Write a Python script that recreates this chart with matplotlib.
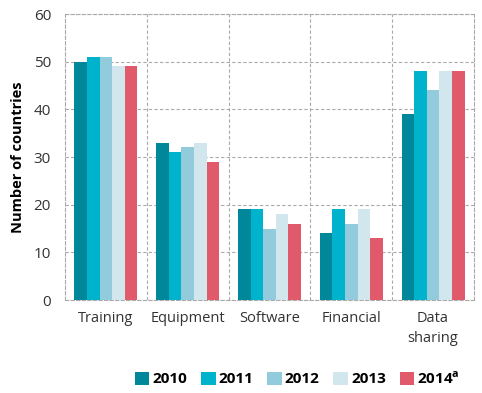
import matplotlib.pyplot as plt
import numpy as np

plt.rcParams['font.family'] = ['Open Sans', 'DejaVu Sans']

categories = ['Training', 'Equipment', 'Software', 'Financial', 'Data\nsharing']
years = ['2010', '2011', '2012', '2013', '2014$^{\\mathregular{a}}$']
v2010 = [50, 33, 19, 14, 39]
v2011 = [51, 31, 19, 19, 48]
v2012 = [51, 32, 15, 16, 44]
v2013 = [49, 33, 18, 19, 48]
v2014 = [49, 29, 16, 13, 48]
series = [v2010, v2011, v2012, v2013, v2014]
colors = ['#00879A', '#00B3CC', '#92CBDB', '#D2E6EE', '#E05A6C']

fig = plt.figure(figsize=(4.82, 3.93), dpi=100)
ax = fig.add_axes([65/482, 1-300/393, 409/482, 286/393])

x = np.arange(len(categories))
w = 0.154
for i, vals in enumerate(series):
    ax.bar(x + (i-2)*w, vals, w, color=colors[i], label=years[i], zorder=3)

ax.set_xlim(-0.5, 4.5)
ax.set_ylim(0, 60)
ax.set_yticks(range(0, 61, 10))
ax.set_xticks(x)
ax.set_xticklabels(categories, fontsize=10.5, color='#333333', linespacing=1.4)
ax.tick_params(axis='y', labelsize=11, colors='#333333', length=0, pad=10)
ax.tick_params(axis='x', length=0, pad=8)
for xv in np.arange(0.5, 4.5, 1):
    ax.axvline(xv, color='#aaaaaa', ls=(0, (3, 2)), lw=0.8, zorder=1)
ax.yaxis.grid(True, color='#aaaaaa', ls=(0, (3, 2)), lw=0.8, zorder=1)
for s in ax.spines.values():
    s.set_color('#aaaaaa')
    s.set_linestyle((0, (3, 2)))
    s.set_linewidth(0.8)

ax.set_ylabel('Number of countries', fontsize=10.5, fontweight='bold', labelpad=6)

leg = fig.legend(loc='center', bbox_to_anchor=(0.617, 0.038), ncol=5, frameon=False,
                 handlelength=0.95, handleheight=0.95, handletextpad=0.2, columnspacing=0.9,
                 prop={'weight': 'bold', 'size': 11})

plt.savefig('out.png', dpi=100)
